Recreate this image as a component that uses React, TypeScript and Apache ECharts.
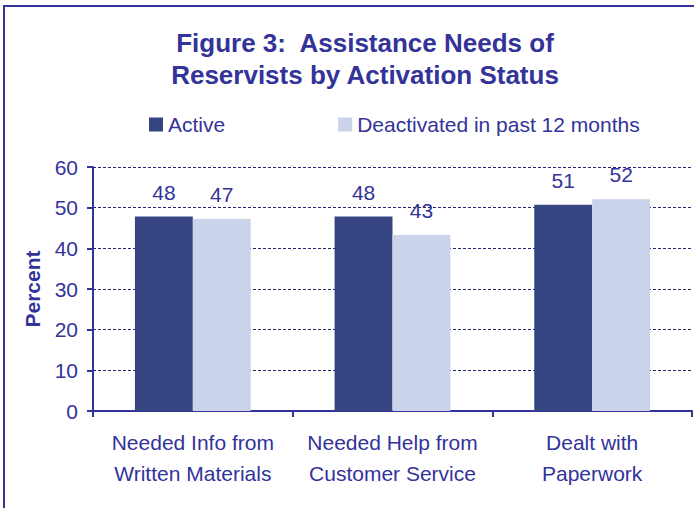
import React, { useEffect, useRef } from "react";
import * as echarts from "echarts";

const categories = [
  "Needed Info from\nWritten Materials",
  "Needed Help from\nCustomer Service",
  "Dealt with\nPaperwork",
];
const activeValues = [47.8, 47.8, 50.7];
const deactivatedValues = [47.2, 43.3, 52.1];
const yTicks = [0, 10, 20, 30, 40, 50, 60];
const seriesNames = ["Active", "Deactivated in past 12 months"];

const NAVY = "#333399";
const FONT = "'Liberation Sans', Arial, sans-serif";

export default function App() {
  const ref = useRef<HTMLDivElement>(null);
  useEffect(() => {
    if (!ref.current) return;
    const chart = echarts.init(ref.current, null, { renderer: "svg" });
    const labelCfg = {
      show: true,
      position: "top",
      distance: 14,
      color: NAVY,
      fontSize: 21,
      fontFamily: FONT,
      formatter: (p: any) => String(Math.round(p.value)),
    };
    chart.setOption({
      animation: false,
      backgroundColor: "#ffffff",
      textStyle: { fontFamily: FONT },
      title: {
        text: "Figure 3:  Assistance Needs of\nReservists by Activation Status",
        left: 360,
        top: 22,
        textAlign: "center",
        textStyle: {
          color: NAVY,
          fontSize: 26,
          fontWeight: "bold",
          fontFamily: FONT,
          lineHeight: 32,
        },
      },
      legend: {
        left: 144,
        top: 109,
        itemWidth: 14,
        itemHeight: 14,
        itemGap: 113,
        icon: "rect",
        textStyle: { color: NAVY, fontSize: 21, fontFamily: FONT },
        data: seriesNames,
      },
      graphic: [
        {
          type: "rect",
          shape: { x: 4, y: 6, width: 800, height: 600 },
          style: { fill: "none", stroke: NAVY, lineWidth: 2 },
          silent: true,
          z: 100,
        },
      ],
      grid: { left: 93, right: 2, top: 167, bottom: 97, containLabel: false },
      xAxis: {
        type: "category",
        data: categories,
        axisLine: { show: true, lineStyle: { color: NAVY, width: 2 } },
        axisTick: { show: true, length: 6, lineStyle: { color: NAVY, width: 2 } },
        axisLabel: {
          color: NAVY,
          fontSize: 21,
          fontFamily: FONT,
          lineHeight: 31,
          margin: 16,
          interval: 0,
        },
      },
      yAxis: {
        type: "value",
        min: yTicks[0],
        max: yTicks[yTicks.length - 1],
        interval: 10,
        name: "Percent",
        nameLocation: "middle",
        nameGap: 50,
        nameTextStyle: {
          color: NAVY,
          fontSize: 21,
          fontWeight: "bold",
          fontFamily: FONT,
        },
        axisLine: { show: true, lineStyle: { color: NAVY, width: 2 } },
        axisTick: { show: true, length: 6, lineStyle: { color: NAVY, width: 2 } },
        axisLabel: { color: NAVY, fontSize: 21, fontFamily: FONT, margin: 15 },
        splitLine: {
          show: true,
          lineStyle: { color: "#23236e", width: 1, type: [3, 2] },
        },
      },
      series: [
        {
          name: seriesNames[0],
          type: "bar",
          data: activeValues,
          barGap: "0%",
          barCategoryGap: "42%",
          itemStyle: { color: "#344582" },
          label: labelCfg,
        },
        {
          name: seriesNames[1],
          type: "bar",
          data: deactivatedValues,
          barGap: "0%",
          barCategoryGap: "42%",
          itemStyle: { color: "#CBD3EA" },
          label: labelCfg,
        },
      ],
    });
    return () => chart.dispose();
  }, []);
  return (
    <div
      ref={ref}
      style={{ position: "fixed", left: 0, top: 0, width: 694, height: 508 }}
    />
  );
}
